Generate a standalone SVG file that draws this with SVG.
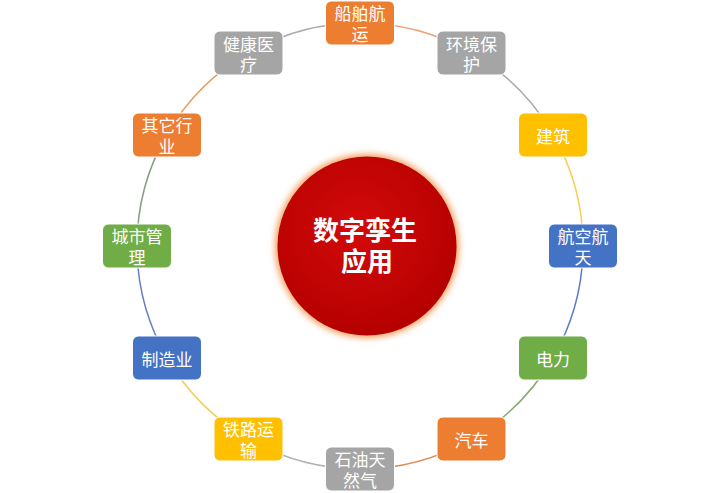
<svg xmlns="http://www.w3.org/2000/svg" width="720" height="493" viewBox="0 0 720 493">
<defs>
<style>
.node rect{stroke:#fff;stroke-width:1}
.node text{font-family:"Noto Sans CJK SC","Noto Sans",sans-serif;font-size:17px;fill:#fff;text-anchor:middle;dominant-baseline:central}
.ctr{font-family:"Noto Sans CJK SC","Noto Sans",sans-serif;font-size:26px;font-weight:bold;fill:#fff;text-anchor:middle;dominant-baseline:central}
.seg{fill:none;stroke-width:1.5}
.o{fill:#ED7D31}.g{fill:#A5A5A5}.y{fill:#FFC000}.b{fill:#4472C4}.gr{fill:#70AD47}
</style>
<radialGradient id="rg" cx="0.45" cy="0.4" r="0.6">
<stop offset="0" stop-color="#D40A0A"/>
<stop offset="1" stop-color="#B50000"/>
</radialGradient>
<filter id="glow" x="-20%" y="-20%" width="140%" height="140%">
<feGaussianBlur stdDeviation="3"/>
</filter>
</defs>
<rect width="720" height="493" fill="#fff"/>
<g id="connectors">
<path class="seg" stroke="#F0A070" d="M360,23 A223,223 0 0 1 471.5,52.9"/>
<path class="seg" stroke="#A8A8B0" d="M471.5,52.9 A223,223 0 0 1 553.1,134.5"/>
<path class="seg" stroke="#F5CF50" d="M553.1,134.5 A223,223 0 0 1 583,246"/>
<path class="seg" stroke="#5A7CC0" d="M583,246 A223,223 0 0 1 553.1,357.5"/>
<path class="seg" stroke="#8AA870" d="M553.1,357.5 A223,223 0 0 1 471.5,439.1"/>
<path class="seg" stroke="#E08A50" d="M471.5,439.1 A223,223 0 0 1 360,469"/>
<path class="seg" stroke="#B0B0B0" d="M360,469 A223,223 0 0 1 248.5,439.1"/>
<path class="seg" stroke="#F0D060" d="M248.5,439.1 A223,223 0 0 1 166.9,357.5"/>
<path class="seg" stroke="#6A80B8" d="M166.9,357.5 A223,223 0 0 1 137,246"/>
<path class="seg" stroke="#8A9A88" d="M137,246 A223,223 0 0 1 166.9,134.5"/>
<path class="seg" stroke="#E89A60" d="M166.9,134.5 A223,223 0 0 1 248.5,52.9"/>
<path class="seg" stroke="#A8A8B0" d="M248.5,52.9 A223,223 0 0 1 360,23"/>
</g>
<g id="center">
<circle cx="367" cy="246" r="92" fill="#F2A060" filter="url(#glow)"/>
<circle cx="367" cy="246" r="89.5" fill="url(#rg)"/>
<text class="ctr" x="365" y="228">数字孪生</text>
<text class="ctr" x="367" y="259">应用</text>
</g>
<g id="n1" class="node"><rect class="o" x="325.5" y="1" width="69" height="44" rx="6"/><text x="360" y="12.5">船舶航</text><text x="360" y="33">运</text></g>
<g id="n2" class="node"><rect class="g" x="437" y="31" width="69" height="44" rx="6"/><text x="471.5" y="43">环境保</text><text x="471.5" y="63.5">护</text></g>
<g id="n3" class="node"><rect class="y" x="518.5" y="113" width="69" height="44" rx="6"/><text x="553" y="135">建筑</text></g>
<g id="n4" class="node"><rect class="b" x="548.5" y="224" width="69" height="44" rx="6"/><text x="583" y="235.5">航空航</text><text x="583" y="256">天</text></g>
<g id="n5" class="node"><rect class="gr" x="518.5" y="336" width="69" height="44" rx="6"/><text x="553" y="358">电力</text></g>
<g id="n6" class="node"><rect class="o" x="437" y="417" width="69" height="44" rx="6"/><text x="471.5" y="439">汽车</text></g>
<g id="n7" class="node"><rect class="g" x="325.5" y="447" width="69" height="44" rx="6"/><text x="360" y="458.5">石油天</text><text x="360" y="479">然气</text></g>
<g id="n8" class="node"><rect class="y" x="214" y="417" width="69" height="44" rx="6"/><text x="248.5" y="428.5">铁路运</text><text x="248.5" y="449">输</text></g>
<g id="n9" class="node"><rect class="b" x="132.5" y="336" width="69" height="44" rx="6"/><text x="167" y="358">制造业</text></g>
<g id="n10" class="node"><rect class="gr" x="102.5" y="224" width="69" height="44" rx="6"/><text x="137" y="235.5">城市管</text><text x="137" y="256">理</text></g>
<g id="n11" class="node"><rect class="o" x="132.5" y="113" width="69" height="44" rx="6"/><text x="167" y="124.5">其它行</text><text x="167" y="145">业</text></g>
<g id="n12" class="node"><rect class="g" x="214" y="31" width="69" height="44" rx="6"/><text x="248.5" y="43">健康医</text><text x="248.5" y="63.5">疗</text></g>
</svg>
